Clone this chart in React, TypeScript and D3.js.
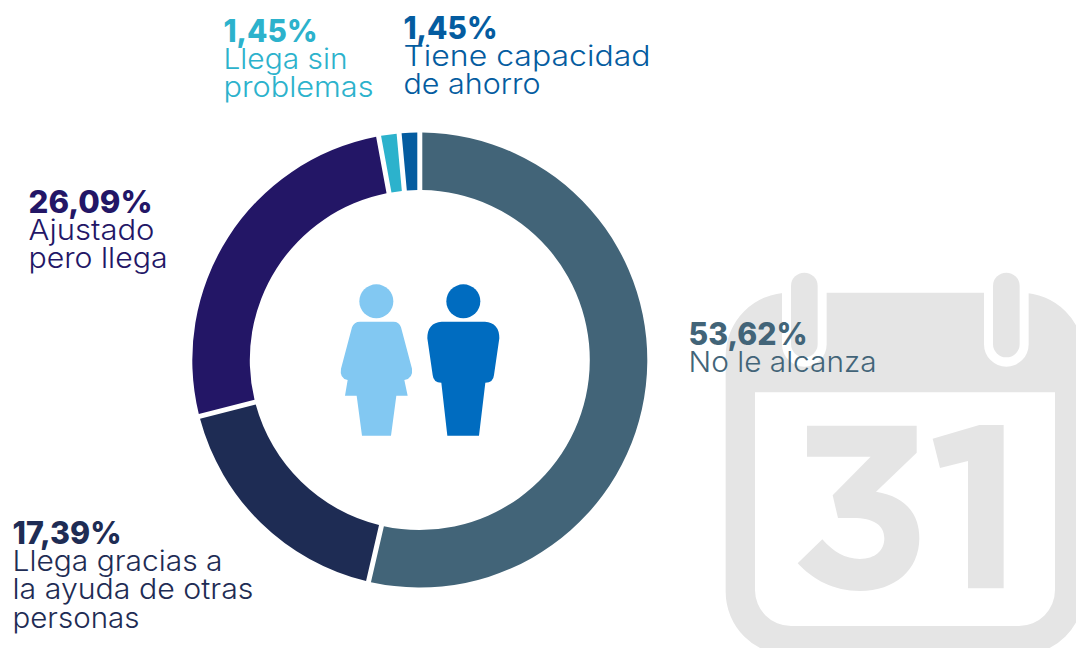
import React from "react";
import * as d3 from "d3";

const categories = ["No le alcanza", "Llega gracias a la ayuda de otras personas", "Ajustado pero llega", "Llega sin problemas", "Tiene capacidad de ahorro"];
const seriesValues = [53.62, 17.39, 26.09, 1.45, 1.45];
const valueLabels = ["53,62%", "17,39%", "26,09%", "1,45%", "1,45%"];
const sliceColors = ["#426478", "#1e2c54", "#231666", "#2cb2cc", "#045ca0"];
const labelLines = [["No le alcanza"], ["Llega gracias a", "la ayuda de otras", "personas"], ["Ajustado", "pero llega"], ["Llega sin", "problemas"], ["Tiene capacidad", "de ahorro"]];

const FONT = "Inter, 'Open Sans', sans-serif";
const labelLayout = [
  { x: 688.5, y: 345, w: 119, lines: [188] },
  { x: 12.5, y: 544, w: 109, lines: [210, 241, 127] },
  { x: 28.5, y: 213, w: 124, lines: [126, 139] },
  { x: 223.5, y: 42, w: 94, lines: [124, 150] },
  { x: 403.5, y: 39, w: 94, lines: [247, 137] },
];

const pieGen = d3.pie<number>().sort(null).value((d) => d);
const arcGen = d3.arc<d3.PieArcDatum<number>>().innerRadius(170).outerRadius(227.5).padAngle(5 / 200).padRadius(200);

const ringX = [213, 819];

export default function App() {
  const arcs = pieGen(seriesValues);
  return (
    <svg width={1076} height={648} viewBox="0 0 1076 648" style={{ position: "absolute", left: 0, top: 0, display: "block", background: "#fff" }} fontFamily={FONT}>
      <g transform="translate(720,270) scale(0.33333)">
        <path
          fill="#e5e5e5"
          fillRule="evenodd"
          d="M207,68 H902 A190,190 0 0 1 1092,258 V965 A190,190 0 0 1 902,1155 H207 A190,190 0 0 1 17,965 V258 A190,190 0 0 1 207,68 Z
             M105,367 V960 A108,108 0 0 0 213,1068 H897 A108,108 0 0 0 1005,960 V367 Z"
        />
        {ringX.map((x) => (
          <g key={x}>
            <path fill="#fff" d={`M${x - 27},0 H${x + 107} V223 A67,67 0 0 1 ${x - 27},223 Z`} />
            <rect x={x} y={8} width={80} height={254} rx={40} fill="#e5e5e5" />
          </g>
        ))}
        <path fill="#e5e5e5" d="M261,467 H590 V548 L468,665 C560,680 598,735 598,805 C598,900 525,963 420,963 C340,963 280,930 233,880 L307,808 C340,845 375,867 420,867 C465,867 493,842 493,805 C493,765 460,744 400,744 H354 L338,676 L452,560 H261 Z" />
        <path fill="#e5e5e5" d="M638,506 L778,465 H851 V955 H744 V573 L660,594 Z" />
      </g>

      <g transform="translate(419.8,360)">
        {arcs.map((a, i) => (
          <path key={categories[i]} d={arcGen(a) as string} fill={sliceColors[i]} />
        ))}
      </g>

      <g transform="translate(340,270) scale(0.33333)">
        <circle cx={109} cy={94} r={51} fill="#82c8f2" />
        <path fill="#82c8f2" d="M60,155 H160 Q178,155 183,172 L216,296 Q220,325 193,330 L203,377 H169 L153,497 H66 L50,377 H15 L23,330 Q-2,325 3,296 L36,172 Q42,155 60,155 Z" />
        <circle cx={370} cy={94} r={51} fill="#006cc0" />
        <path fill="#006cc0" d="M305,155 H435 Q478,158 478,205 L462,315 Q460,338 436,338 L417,497 H322 L304,338 Q280,338 278,315 L262,205 Q262,158 305,155 Z" />
      </g>

      {labelLayout.map((l, i) => (
        <g key={categories[i]} fill={sliceColors[i]}>
          <text x={l.x} y={l.y} fontSize={31} fontWeight={800} textLength={l.w} lengthAdjust="spacingAndGlyphs">
            {valueLabels[i]}
          </text>
          {labelLines[i].map((t, j) => (
            <text key={t} x={l.x} y={l.y + 27 + j * 28.4} fontSize={28} fontWeight={300} textLength={l.lines[j]} lengthAdjust="spacingAndGlyphs">
              {t}
            </text>
          ))}
        </g>
      ))}
    </svg>
  );
}
